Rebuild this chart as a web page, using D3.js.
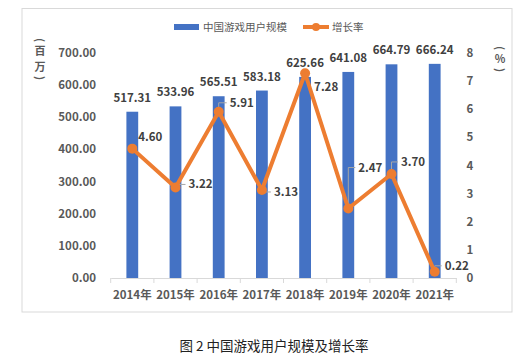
<!DOCTYPE html>
<html>
<head>
<meta charset="utf-8">
<script src="https://cdn.jsdelivr.net/npm/d3@7"></script>
<style>
body { margin: 0; background: #fff; }
text { font-family: "Noto Sans CJK SC", "Open Sans", sans-serif; }
</style>
</head>
<body>
<script>
// data
var years = ["2014年", "2015年", "2016年", "2017年", "2018年", "2019年", "2020年", "2021年"];
var users = [517.31, 533.96, 565.51, 583.18, 625.66, 641.08, 664.79, 666.24];
var growth = [4.60, 3.22, 5.91, 3.13, 7.28, 2.47, 3.70, 0.22];
var leftTicks = [0, 100, 200, 300, 400, 500, 600, 700];
var rightTicks = [0, 1, 2, 3, 4, 5, 6, 7, 8];

// where the growth labels sit, relative to the point (dx to text start, dy to text middle)
var growthLabelPos = [
  {dx: 6, dy: -12, leader: false},
  {dx: 13, dy: -3, leader: true},
  {dx: 11, dy: -9, leader: true},
  {dx: 12, dy: 2, leader: true},
  {dx: 9, dy: 14, leader: false},
  {dx: 10, dy: -41, leader: true},
  {dx: 9.5, dy: -12, leader: true},
  {dx: 10, dy: -6, leader: true}
];

var W = 524, H = 362;
var blue = "#4472C4", orange = "#ED7D31";
var numSize = 11.5;

var svg = d3.select("body").append("svg")
    .attr("width", W)
    .attr("height", H);

// chart frame
svg.append("rect")
    .attr("x", 22).attr("y", 8.5)
    .attr("width", 490).attr("height", 303.5)
    .attr("fill", "#fff")
    .attr("stroke", "#d9d9d9")
    .attr("stroke-width", 1);

var x = d3.scaleBand().domain(years).range([110.7, 456.3]);
var yL = d3.scaleLinear().domain([0, 700]).range([278, 53]);
var yR = d3.scaleLinear().domain([0, 8]).range([278, 53]);

// left axis labels
svg.append("g").selectAll("text")
    .data(leftTicks)
    .enter().append("text")
    .attr("x", 96)
    .attr("y", function(d) { return yL(d); })
    .attr("dy", "0.35em")
    .attr("text-anchor", "end")
    .attr("font-size", numSize)
    .attr("font-weight", "bold")
    .attr("fill", "#595959")
    .text(function(d) { return d3.format(".2f")(d); });

// right axis labels
svg.append("g").selectAll("text")
    .data(rightTicks)
    .enter().append("text")
    .attr("x", 470)
    .attr("y", function(d) { return yR(d); })
    .attr("dy", "0.35em")
    .attr("text-anchor", "middle")
    .attr("font-size", numSize)
    .attr("font-weight", "bold")
    .attr("fill", "#595959")
    .text(function(d) { return d; });

// x axis
var xAxis = svg.append("g")
    .attr("transform", "translate(0,278)")
    .call(d3.axisBottom(x).tickSize(0).tickPadding(13));
xAxis.select(".domain").attr("stroke", "#d9d9d9");
xAxis.selectAll("text")
    .attr("font-size", numSize)
    .attr("font-weight", "bold")
    .attr("fill", "#595959")
    .style("font-family", "\"Noto Sans CJK SC\", sans-serif");
var edges = years.map(function(d) { return x(d); }).concat([x.range()[1]]);
xAxis.selectAll(".edge")
    .data(edges)
    .enter().append("line")
    .attr("class", "edge")
    .attr("x1", function(d) { return d; })
    .attr("x2", function(d) { return d; })
    .attr("y1", 0).attr("y2", 5)
    .attr("stroke", "#d9d9d9");

// bars
var barW = 11.8;
svg.append("g").selectAll("rect")
    .data(users)
    .enter().append("rect")
    .attr("x", function(d, i) { return x(years[i]) + x.bandwidth() / 2 - barW / 2; })
    .attr("y", function(d) { return yL(d); })
    .attr("width", barW)
    .attr("height", function(d) { return yL(0) - yL(d); })
    .attr("fill", blue);

svg.append("g").selectAll("text")
    .data(users)
    .enter().append("text")
    .attr("x", function(d, i) { return x(years[i]) + x.bandwidth() / 2; })
    .attr("y", function(d) { return yL(d) - 10; })
    .attr("text-anchor", "middle")
    .attr("font-size", numSize)
    .attr("font-weight", "bold")
    .attr("fill", "#404040")
    .text(function(d) { return d3.format(".2f")(d); });

// growth line
var px = function(i) { return x(years[i]) + x.bandwidth() / 2; };

svg.append("g").selectAll("path")
    .data(growth)
    .enter().filter(function(d, i) { return growthLabelPos[i].leader; })
    .append("path")
    .attr("d", function(d) {
      var i = growth.indexOf(d), p = growthLabelPos[i];
      var x0 = px(i), y0 = yR(d);
      return "M" + x0 + "," + y0 + "V" + (y0 + p.dy) + "H" + (x0 + p.dx - 3);
    })
    .attr("fill", "none")
    .attr("stroke", "#a6a6a6")
    .attr("stroke-width", 1);

var line = d3.line()
    .x(function(d, i) { return px(i); })
    .y(function(d) { return yR(d); });

svg.append("path")
    .datum(growth)
    .attr("d", line)
    .attr("fill", "none")
    .attr("stroke", orange)
    .attr("stroke-width", 4)
    .attr("stroke-linejoin", "round");

svg.append("g").selectAll("circle")
    .data(growth)
    .enter().append("circle")
    .attr("cx", function(d, i) { return px(i); })
    .attr("cy", function(d) { return yR(d); })
    .attr("r", 5)
    .attr("fill", orange);

svg.append("g").selectAll("text")
    .data(growth)
    .enter().append("text")
    .attr("x", function(d, i) { return px(i) + growthLabelPos[i].dx; })
    .attr("y", function(d, i) { return yR(d) + growthLabelPos[i].dy; })
    .attr("dy", "0.35em")
    .attr("font-size", numSize)
    .attr("font-weight", "bold")
    .attr("fill", "#404040")
    .text(function(d) { return d3.format(".2f")(d); });

// axis titles (stacked vertical, brackets turned on their side)
function stacked(chars, cx, ys) {
  svg.append("g").selectAll("text")
      .data(chars)
      .enter().append("text")
      .attr("x", cx)
      .attr("y", function(d, i) { return ys[i]; })
      .attr("dy", "0.35em")
      .attr("text-anchor", "middle")
      .attr("font-size", 11)
      .attr("font-weight", "bold")
      .attr("fill", "#595959")
      .attr("transform", function(d, i) {
        return (d == "(" || d == ")") ? "rotate(90," + cx + "," + ys[i] + ")" : null;
      })
      .text(function(d) { return d; });
}
stacked(["(", "百", "万", ")"], 40, [40, 51, 67, 78]);
stacked(["(", "%", ")"], 500, [48, 59, 70]);

// legend
var lg = svg.append("g");
lg.append("rect")
    .attr("x", 174).attr("y", 24)
    .attr("width", 25).attr("height", 6)
    .attr("fill", blue);
lg.append("text")
    .attr("x", 203).attr("y", 27)
    .attr("dy", "0.35em")
    .attr("font-size", 10.5)
    .attr("fill", "#595959")
    .text("中国游戏用户规模");
lg.append("line")
    .attr("x1", 303).attr("x2", 329)
    .attr("y1", 27).attr("y2", 27)
    .attr("stroke", orange)
    .attr("stroke-width", 4);
lg.append("circle")
    .attr("cx", 316).attr("cy", 27)
    .attr("r", 4)
    .attr("fill", orange);
lg.append("text")
    .attr("x", 332).attr("y", 27)
    .attr("dy", "0.35em")
    .attr("font-size", 10.5)
    .attr("fill", "#595959")
    .text("增长率");

// caption
svg.append("text")
    .attr("x", 274).attr("y", 346)
    .attr("dy", "0.35em")
    .attr("text-anchor", "middle")
    .attr("font-size", 13.5)
    .attr("fill", "#222")
    .text("图 2 中国游戏用户规模及增长率");
</script>
</body>
</html>
